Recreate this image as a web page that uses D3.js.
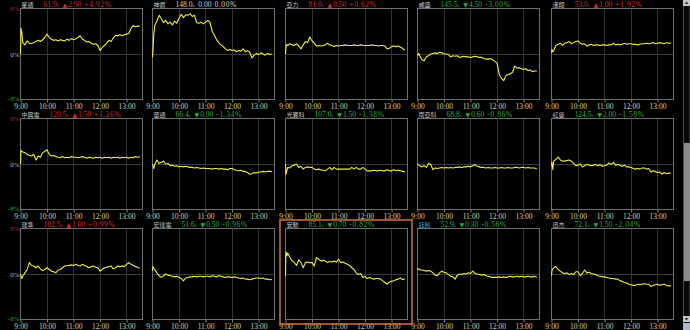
<!DOCTYPE html>
<html>
<head>
<meta charset="utf-8">
<script src="https://cdn.jsdelivr.net/npm/d3@7"></script>
<style>
  html, body { margin: 0; padding: 0; background: #000; overflow: hidden; }
  svg { display: block; }
</style>
</head>
<body>
<svg id="chart" width="690" height="330"></svg>
<script>
/*************
*** DATA ***
*************/

// minutes after 9:00 for every sample
const times = [
  0, 1, 3, 5,
  10, 15, 20, 25, 30, 35, 40, 45, 50, 55, 60,
  65, 70, 75, 80, 85, 90, 95, 100, 105, 110, 115, 120,
  125, 130, 135, 140, 145, 150, 155, 160, 165, 170, 175, 180,
  185, 190, 195, 200, 205, 210, 215, 220, 225, 230, 235, 240,
  245, 250, 255, 260, 265, 270
];

const hourTicks = [0, 60, 120, 180, 240];
const tickLabels = ["9:00", "10:00", "11:00", "12:00", "13:00"];
const pctTicks = [8, 0, -8];

const names = ["星通", "神盾", "亞力", "威盛", "漢翔",
               "中興電", "華通", "光寶科", "南亞科", "虹堡",
               "建準", "宏達電", "安馳", "鈺創", "迅杰"];
const prices = ["61.9", "148.0", "81.0", "145.5", "53.0",
                "120.5", "66.4", "107.0", "68.8", "124.5",
                "102.5", "51.6", "85.1", "52.9", "72.1"];
const changes = [2.90, 0.00, 0.50, -4.50, 1.00,
                 1.50, -0.90, -1.50, -0.60, -2.00,
                 1.00, -0.50, -0.70, -0.30, -1.50];
const pcts = [4.92, 0.00, 0.62, -3.00, 1.92,
              1.26, -1.34, -1.38, -0.86, -1.58,
              0.99, -0.96, -0.82, -0.56, -2.04];

// % change vs previous close, one value per entry of times
const s1 = [0, 4.5, 3.8, 2.0,
  1.6, 2.3, 1.9, 1.8, 2.0, 2.2, 2.4, 2.2, 2.5, 2.9, 3.5,
  2.9, 2.6, 2.4, 2.5, 2.3, 2.5, 2.4, 2.3, 2.6, 2.4, 2.7, 2.5,
  2.7, 2.9, 3.2, 2.6, 2.4, 2.1, 2.2, 1.9, 1.7, 1.8, 1.5, 0.6,
  1.2, 1.5, 1.9, 2.4, 2.2, 2.8, 3.3, 3.2, 3.4, 3.2, 3.4, 3.5,
  3.6, 4.5, 5.0, 4.8, 4.9, 4.92];
const s2 = [-0.6, 0.5, 3.5, 5.0,
  5.8, 6.8, 6.2, 5.5, 5.9, 5.3, 5.6, 5.1, 5.8, 5.4, 6.3,
  7.0, 6.4, 6.9, 6.8, 7.1, 6.6, 6.8, 5.5, 5.4, 5.6, 5.3, 5.6,
  5.9, 5.6, 4.0, 3.3, 2.5, 2.0, 1.6, 1.3, 0.9, 0.6, 0.8, 0.6,
  0.7, 0.4, 0.6, 0.5, 0.9, 0.4, 0.6, 0.3, -0.7, -0.2, 0.1, -0.1,
  0.2, 0.0, -0.2, 0.1, -0.1, 0.0];
const s3 = [0, 1.2, 1.7, 1.5,
  1.8, 1.6, 1.5, 1.8, 1.4, 0.9, 1.6, 2.2, 2.0, 3.0, 2.3,
  1.9, 1.4, 1.5, 1.4, 1.5, 1.6, 1.9, 1.6, 1.5, 1.3, 1.5, 1.4,
  1.5, 1.5, 1.6, 1.5, 1.5, 1.5, 1.6, 1.5, 1.5, 1.6, 1.5, 1.5,
  1.5, 1.5, 1.6, 1.5, 1.5, 1.4, 1.5, 1.5, 1.4, 0.9, 1.0, 1.3,
  1.4, 1.3, 1.4, 1.2, 1.0, 0.62];
const s4 = [0, -0.2, 0.1, -0.3,
  -1.0, -1.2, -0.5, -0.3, 0.0, 0.1, 0.2, 0.1, 0.3, 0.2, 0.0,
  0.0, -0.1, -0.5, -0.3, -0.4, -0.3, -0.6, -0.5, -0.4, -0.5, -0.5, -0.6,
  -0.5, -0.4, -0.5, -0.6, -0.6, -0.8, -0.9, -0.9, -0.8, -1.0, -1.3, -1.6,
  -3.6, -4.3, -4.7, -3.8, -3.6, -3.5, -3.2, -2.1, -2.5, -2.4, -2.6, -2.7,
  -2.6, -2.9, -2.8, -3.1, -3.0, -3.0];
const s5 = [0.2, 0.8, 0.4, 0.6,
  1.5, 1.7, 1.9, 1.5, 1.9, 2.0, 2.2, 1.8, 2.0, 2.2, 2.3,
  1.9, 1.7, 1.8, 1.4, 1.6, 1.7, 1.5, 1.6, 1.6, 1.5, 1.6, 1.6,
  1.5, 1.6, 1.6, 1.9, 1.6, 1.7, 1.6, 1.7, 1.9, 1.7, 1.8, 1.8,
  1.7, 1.7, 1.6, 1.7, 1.8, 1.8, 1.9, 1.8, 1.9, 2.0, 1.8, 1.9,
  2.0, 1.9, 1.8, 2.0, 1.9, 1.92];
const s6 = [0, 2.4, 2.2, 2.1,
  2.0, 1.7, 1.5, 1.4, 1.7, 0.7, 1.4, 1.2, 2.0, 2.2, 2.5,
  1.7, 1.4, 1.5, 1.3, 1.2, 1.1, 1.3, 1.1, 1.2, 1.1, 1.3, 1.2,
  1.2, 1.1, 1.2, 1.3, 1.2, 1.0, 1.2, 1.1, 1.0, 1.2, 1.1, 1.2,
  1.0, 1.2, 1.1, 1.2, 1.0, 1.2, 1.1, 1.2, 1.0, 1.2, 1.1, 1.2,
  1.0, 1.2, 1.1, 1.3, 1.2, 1.26];
const s7 = [0, -0.3, -0.8, -0.1,
  0.7, 0.1, 0.3, 0.5, 0.0, 0.1, -0.3, -0.2, -0.4, -0.3, -0.5,
  -0.4, -0.5, -0.4, -0.5, -0.6, -0.6, -0.7, -0.6, -0.7, -0.8, -0.7, -0.8,
  -0.8, -0.8, -0.9, -0.8, -0.8, -0.9, -0.8, -0.9, -0.9, -1.0, -0.8, -0.8,
  -1.0, -1.1, -1.2, -1.1, -1.3, -1.3, -1.5, -1.8, -1.7, -1.5, -1.6, -1.4,
  -1.4, -1.3, -1.4, -1.3, -1.3, -1.34];
const s8 = [0, -1.8, -1.2, -0.6,
  -0.7, -0.3, -0.2, 0.0, -0.6, -0.4, -0.9, -0.6, -0.5, -0.6, -0.6,
  -0.9, -1.0, -0.9, -1.0, -1.1, -1.2, -0.9, -0.6, -1.0, -0.6, -0.9, -0.9,
  -0.9, -0.9, -0.9, -0.9, -0.9, -0.6, -0.9, -0.6, -0.9, -0.9, -0.6, -0.9,
  -1.2, -1.2, -1.2, -1.1, -1.2, -1.2, -1.1, -1.2, -1.2, -1.0, -1.2, -1.2,
  -1.0, -1.2, -1.1, -1.2, -1.3, -1.38];
const s9 = [0.1, 0.0, -0.2, -0.3,
  -0.5, -0.3, -0.6, 0.1, -0.1, -1.0, -0.7, -0.8, -0.7, -0.6, -0.7,
  -0.6, -0.7, -0.6, -0.7, -0.6, -0.6, -0.5, -0.6, -0.5, -0.5, -0.4, -0.5,
  -0.3, -0.1, -0.4, -0.5, -0.6, -0.6, -0.7, -0.6, -0.7, -0.7, -0.6, -0.7,
  -0.7, -0.6, -0.7, -0.7, -0.6, -0.7, -0.7, -0.6, -0.6, -0.7, -0.6, -0.6,
  -0.7, -0.6, -0.7, -0.7, -0.7, -0.86];
const s10 = [-0.3, 0.3, -1.0, 0.5,
  0.8, 1.2, 0.7, 0.5, 0.5, 0.6, 0.7, 0.5, 0.1, -0.3, -0.2,
  0.0, -0.5, -0.3, -0.1, -0.2, -0.3, -0.2, -0.1, -0.3, -0.1, -0.4, -0.3,
  -0.2, 0.2, -0.1, 0.3, -0.2, -0.1, -0.2, -0.4, -0.2, -0.5, -0.5, -0.6,
  -0.8, -0.9, -0.8, -0.9, -0.7, -0.7, -0.9, -0.8, -1.4, -1.2, -1.3, -1.5,
  -1.4, -1.8, -1.5, -1.7, -1.6, -1.58];
const s11 = [0, -0.3, -0.8, -0.4,
  0.2, 0.8, 2.0, 1.5, 1.4, 1.1, 1.4, 0.9, 0.6, 0.8, 1.1,
  0.8, 0.5, 0.4, 0.2, 0.7, 0.8, 1.1, 1.4, 1.5, 1.5, 1.6, 1.5,
  1.7, 1.5, 1.4, 1.7, 1.5, 1.3, 1.1, 1.3, 1.4, 1.2, 1.1, 0.5,
  0.8, 1.1, 1.2, 1.3, 1.4, 0.9, 1.1, 1.4, 1.3, 1.4, 1.3, 1.7,
  2.0, 1.7, 1.5, 1.3, 1.2, 0.99];
const s12 = [0.5, 1.3, 1.0, 0.8,
  0.2, -0.3, -0.6, -0.3, 0.0, -0.2, -0.3, -0.4, -0.5, -0.4, -0.6,
  -0.8, -1.2, -0.7, -0.6, -0.5, -0.5, -0.4, -0.5, -0.4, -0.4, -0.5, -0.4,
  -0.4, -0.5, -0.3, -0.4, -0.5, -0.3, -0.4, -0.5, -0.6, -0.5, -0.5, -0.6,
  -0.5, -0.6, -0.7, -0.8, -0.7, -0.9, -0.9, -1.0, -0.9, -0.8, -0.7, -0.7,
  -0.8, -0.7, -0.9, -0.9, -1.0, -0.96];
const s13 = [-0.3, 3.9, 3.2, 3.7,
  2.9, 2.3, 2.0, 1.5, 2.5, 2.0, 1.1, 2.0, 2.1, 2.0, 2.0,
  1.4, 2.9, 2.6, 2.3, 2.4, 2.3, 2.0, 2.2, 2.1, 2.3, 2.1, 2.6,
  2.0, 2.1, 1.9, 1.7, 1.5, 1.1, 0.8, 0.2, -0.1, 0.1, -0.6, -0.4,
  -0.8, -0.6, -0.8, -0.9, -0.8, -0.8, -0.9, -1.2, -1.5, -1.8, -1.4, -1.3,
  -1.2, -1.0, -0.9, -0.7, -1.0, -0.82];
const s14 = [0.9, 0.8, 0.9, 0.7,
  0.7, 0.6, 0.5, 0.6, 0.5, 0.2, -0.2, -0.3, 0.2, 0.5, 0.3,
  0.2, -0.1, -0.4, -0.5, -0.9, -0.2, 0.0, -0.1, 0.1, 0.0, 0.2, 0.1,
  0.5, 0.1, 0.0, -0.1, -0.2, -0.1, -0.3, -0.4, -0.5, -0.6, -0.6, -0.6,
  -0.5, -0.6, -0.5, -0.6, -0.5, -0.4, -0.5, -0.5, -0.4, -0.5, -0.4, -0.5,
  -0.5, -0.4, -0.5, -0.5, -0.4, -0.56];
const s15 = [-0.3, 0.5, 0.9, 1.1,
  1.3, 0.8, 0.5, 0.2, 0.1, 0.2, -0.1, 0.1, -0.1, 0.4, 0.4,
  -0.3, 0.1, 0.7, 0.2, 0.3, 0.1, 0.0, -0.1, -0.3, -0.4, -0.5, -0.5,
  -0.6, -0.7, -0.8, -0.8, -0.9, -0.9, -1.2, -1.3, -1.5, -1.6, -1.8, -1.9,
  -2.0, -2.0, -1.8, -1.9, -1.8, -1.7, -1.8, -1.8, -2.2, -2.0, -1.9, -1.8,
  -2.0, -1.9, -1.8, -2.0, -2.1, -2.04];

const series = [s1, s2, s3, s4, s5, s6, s7, s8, s9, s10, s11, s12, s13, s14, s15];


/*************
*** LAYOUT ***
*************/

const W = 690, H = 330;
const colX = [20, 152, 285, 417, 551];
const rowY = [8, 118, 228];
const boxW = 122, boxH = 91;
const selected = 12;   // highlighted cell (安馳)
const activeName = 13; // name shown in blue (鈺創)

const upCol = "#d42a2a";
const downCol = "#2eaa40";
const flatCol = "#d0d0d0";

const x = d3.scaleLinear().domain([0, 276]).range([0, boxW]);
const y = d3.scaleLinear().domain([-8, 8]).range([boxH, 0]);

const line = d3.line()
  .x((d, i) => x(times[i]))
  .y(d => y(d));

const svg = d3.select("#chart");
svg.append("rect").attr("width", W).attr("height", H).attr("fill", "#000");


/******************
*** DRAW PANELS ***
******************/

series.forEach((vals, k) => {
  const col = k % 5, row = Math.floor(k / 5);
  const g = svg.append("g")
    .attr("transform", `translate(${colX[col] + 0.5},${rowY[row] + 0.5})`);

  // hour grid lines
  g.selectAll(".vgrid")
    .data(hourTicks.slice(1))
    .enter().append("line")
      .attr("x1", d => Math.round(x(d))).attr("x2", d => Math.round(x(d)))
      .attr("y1", 0).attr("y2", boxH)
      .attr("stroke", "#333");

  // 0% line
  g.append("line")
    .attr("x1", 0).attr("x2", boxW)
    .attr("y1", Math.round(y(0))).attr("y2", Math.round(y(0)))
    .attr("stroke", "#3c3c3c");

  // frame
  g.append("rect")
    .attr("width", boxW).attr("height", boxH)
    .attr("fill", "none").attr("stroke", "#707070");

  // time axis
  const ax = g.append("g")
    .attr("transform", `translate(0,${boxH})`)
    .call(d3.axisBottom(x)
      .tickValues(hourTicks)
      .tickFormat((d, i) => tickLabels[i])
      .tickSize(3)
      .tickPadding(1));
  ax.select(".domain").remove();
  ax.selectAll(".tick line").attr("stroke", "#808080");
  ax.selectAll(".tick text")
    .attr("fill", "#d8d0a2")
    .style("font-family", "'Liberation Serif', serif")
    .style("font-size", "7.5px");

  // % labels only in the first column
  if (col === 0) {
    const ay = g.append("g")
      .call(d3.axisLeft(y)
        .tickValues(pctTicks)
        .tickFormat(d => d + "%")
        .tickSize(0)
        .tickPadding(1));
    ay.select(".domain").remove();
    ay.selectAll(".tick text")
      .attr("fill", d => d > 0 ? "#b42020" : d < 0 ? "#28a03a" : "#b8b8b8")
      .attr("dy", d => d < 0 ? "0.1em" : "0.32em")
      .style("font-family", "'Liberation Serif', serif")
      .style("font-size", "7px");
  }

  // price line
  g.append("path")
    .datum(vals)
    .attr("d", line)
    .attr("fill", "none")
    .attr("stroke", "#f0ec48")
    .attr("stroke-width", 1.1)
    .attr("stroke-linejoin", "round");

  // title
  const c = changes[k];
  const colr = c > 0 ? upCol : c < 0 ? downCol : flatCol;
  const title = g.append("text")
    .attr("x", 1).attr("y", -1.8)
    .style("font-family", "'Liberation Serif', serif")
    .style("font-size", "7.5px");
  title.append("tspan")
    .text(names[k])
    .attr("fill", k === activeName ? "#3aa6d6" : "#c4c4c4")
    .style("font-family", "'Noto Sans CJK TC', sans-serif")
    .style("font-size", "6px");
  title.append("tspan").attr("dx", 10).attr("fill", colr).text(prices[k]);
  title.append("tspan").attr("fill", colr).style("font-size", "5px").text("s");
  if (c !== 0) {
    title.append("tspan")
      .attr("dx", 4).attr("fill", colr)
      .style("font-family", "'DejaVu Sans', sans-serif")
      .style("font-size", "6px")
      .text(c > 0 ? "▲" : "▼");
  }
  title.append("tspan")
    .attr("dx", c !== 0 ? 1 : 4).attr("fill", colr)
    .text(Math.abs(c).toFixed(2));
  title.append("tspan")
    .attr("dx", 3).attr("fill", colr)
    .style("letter-spacing", "0.6px")
    .text((pcts[k] > 0 ? "+" : "") + pcts[k].toFixed(2) + "%");
});

// highlight box around the selected cell
{
  const col = selected % 5, row = Math.floor(selected / 5);
  svg.append("rect")
    .attr("x", colX[col] - 5).attr("y", rowY[row] - 8)
    .attr("width", boxW + 10).attr("height", boxH + 13)
    .attr("fill", "none")
    .attr("stroke", "#cc7444")
    .attr("stroke-width", 1.5);
}


/****************
*** SCROLLBAR ***
****************/

const sb = svg.append("g").attr("transform", "translate(683,0)");
sb.append("rect").attr("x", 0.5).attr("y", 0).attr("width", 6.5).attr("height", 330)
  .attr("fill", "#0a0a0a").attr("stroke", "#4a4a4a");
sb.append("rect").attr("x", 0).attr("y", 0).attr("width", 7).attr("height", 6).attr("fill", "#c8c8c8");
sb.append("path").attr("d", "M1.5,4 L3.5,1.5 L5.5,4 Z").attr("fill", "#333");
sb.append("rect").attr("x", 1).attr("y", 143).attr("width", 6).attr("height", 138).attr("fill", "#8c8c8c");
sb.append("rect").attr("x", 0).attr("y", 316).attr("width", 7).attr("height", 6).attr("fill", "#c8c8c8");
sb.append("path").attr("d", "M1.5,318 L3.5,320.5 L5.5,318 Z").attr("fill", "#333");
sb.append("rect").attr("x", 0).attr("y", 323).attr("width", 7).attr("height", 7).attr("fill", "#aab8d0");
</script>
</body>
</html>
